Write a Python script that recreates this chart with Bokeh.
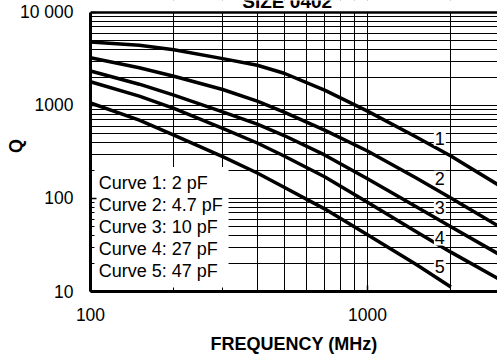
import math
from bokeh.plotting import figure
from bokeh.models import FixedTicker, Span, BasicTickFormatter
from bokeh.core.properties import value
from bokeh.embed import file_html
from bokeh.resources import INLINE

# ---- data ----
freq = [100, 150, 200, 300, 400, 500, 700, 1000, 1500, 2000, 3000]
q_curve1 = [4810, 4430, 3980, 3190, 2705, 2220, 1460, 869, 458, 286, 137]
q_curve2 = [3254, 2541, 2061, 1485, 1112, 849, 544, 324, 166, 101, 49.7]
q_curve3 = [2344, 1693, 1290, 855, 631, 475, 294, 163, 81.4, 49.7, 24.9]
q_curve4 = [1800, 1259, 929, 568, 395, 286, 171, 91, 44, 26.5, 13.5]
freq5 = [100, 150, 200, 300, 400, 500, 700, 1000, 1500, 2000]
q_curve5 = [1064, 697, 481, 282, 188, 132, 77.4, 40.8, 19.5, 11.2]

curve_ids = ["1", "2", "3", "4", "5"]
capacitance = ["2 pF", "4.7 pF", "10 pF", "27 pF", "47 pF"]

x_major = [100, 1000]
x_minor = [200, 300, 400, 500, 600, 700, 800, 900, 2000, 3000]
y_major = [10, 100, 1000, 10000]
y_minor = [m * d for d in (10, 100, 1000) for m in range(2, 10)]
y_tick_labels = {10: "10", 100: "100", 1000: "1000", 10000: "10 000"}
x_tick_labels = {100: "100", 1000: "1000"}

title_text = "SIZE 0402"
x_title = "FREQUENCY (MHz)"
y_title = "Q"

# ---- layout constants ----
FONT = "Liberation Sans"
Q_MIN, Q_MAX = 10, 10000
Q_TOP = 13445          # frame reaches the top of the page; the title sits above Q_MAX
F_MIN, F_MAX = 100, 2947
num_label_x = 2000
num_label_q = [444, 165, 80.8, 37.6, 18.7]
legend_x = 107
legend_q = [147, 85.5, 49.7, 28.9, 16.8]
box_right = 315
box_top = 218
title_x = 513
title_q = 13120

p = figure(width=497, height=356, x_axis_type="log", y_axis_type="log",
           x_range=(F_MIN, F_MAX), y_range=(Q_MIN, Q_TOP),
           output_backend="svg", toolbar_location=None,
           min_border_left=90, min_border_right=0, min_border_top=0,
           min_border_bottom=64)
p.outline_line_color = None
p.background_fill_color = "white"
p.border_fill_color = "white"

xt = FixedTicker(ticks=x_major, minor_ticks=x_minor)
yt = FixedTicker(ticks=y_major, minor_ticks=y_minor)
p.xaxis.ticker = xt
p.yaxis.ticker = yt
p.xgrid.ticker = xt
p.ygrid.ticker = yt
p.xaxis.formatter = BasicTickFormatter()
p.yaxis.formatter = BasicTickFormatter()
p.xaxis.major_label_overrides = x_tick_labels
p.yaxis.major_label_overrides = y_tick_labels
p.yaxis.bounds = (Q_MIN, Q_MAX)

for g in (p.xgrid, p.ygrid):
    g.grid_line_color = "black"
    g.grid_line_width = 1
    g.minor_grid_line_color = "black"
    g.minor_grid_line_width = 1

for ax in (p.xaxis, p.yaxis):
    ax.axis_line_width = 3
    ax.axis_line_color = "black"
    ax.major_tick_in = 6
    ax.major_tick_out = 0
    ax.minor_tick_in = 4
    ax.minor_tick_out = 0
    ax.major_tick_line_width = 1.5
    ax.minor_tick_line_width = 1
    ax.major_label_text_font = FONT
    ax.major_label_text_font_size = "17.5px"
    ax.major_label_text_color = "black"
    ax.axis_label_text_font = FONT
    ax.axis_label_text_font_size = "18px"
    ax.axis_label_text_font_style = "bold"
    ax.axis_label_text_color = "black"

p.xaxis.axis_label = x_title
p.yaxis.axis_label = y_title
p.xaxis.major_label_standoff = 16
p.xaxis.axis_label_standoff = 10
p.yaxis.major_label_standoff = 17
p.yaxis.axis_label_standoff = -9

# white band above the chart area (hides grid above Q_MAX)
p.quad(left=F_MIN, right=F_MAX, bottom=Q_MAX, top=Q_TOP,
       fill_color="white", line_color=None)

# top border
p.add_layout(Span(location=Q_MAX, dimension="width", line_color="black", line_width=2.5))

# legend box (white, covering the grid)
p.quad(left=F_MIN, right=box_right, bottom=Q_MIN, top=box_top,
       fill_color="white", line_color=None)

for fx, q in ((freq, q_curve1), (freq, q_curve2), (freq, q_curve3),
              (freq, q_curve4), (freq5, q_curve5)):
    p.line(fx, q, line_color="black", line_width=3.5, line_join="round")

p.text(x=[num_label_x] * 5, y=num_label_q, text=curve_ids,
       text_align="right", text_baseline="middle", x_offset=-5,
       text_font=value(FONT), text_font_size="18px", text_color="black",
       background_fill_color="white", padding=1)

p.text(x=[legend_x] * 5, y=legend_q,
       text=[f"Curve {c}: {v}" for c, v in zip(curve_ids, capacitance)],
       text_align="left", text_baseline="middle",
       text_font=value(FONT), text_font_size="18px", text_color="black")

# chart title (its top part lies above the page, as in the reference)
p.text(x=[title_x], y=[title_q], text=[title_text], text_align="center",
       text_baseline="alphabetic", text_font=value(FONT),
       text_font_size="19px", text_font_style="bold", text_color="black")

open("out.html", "w").write(file_html(p, INLINE))
